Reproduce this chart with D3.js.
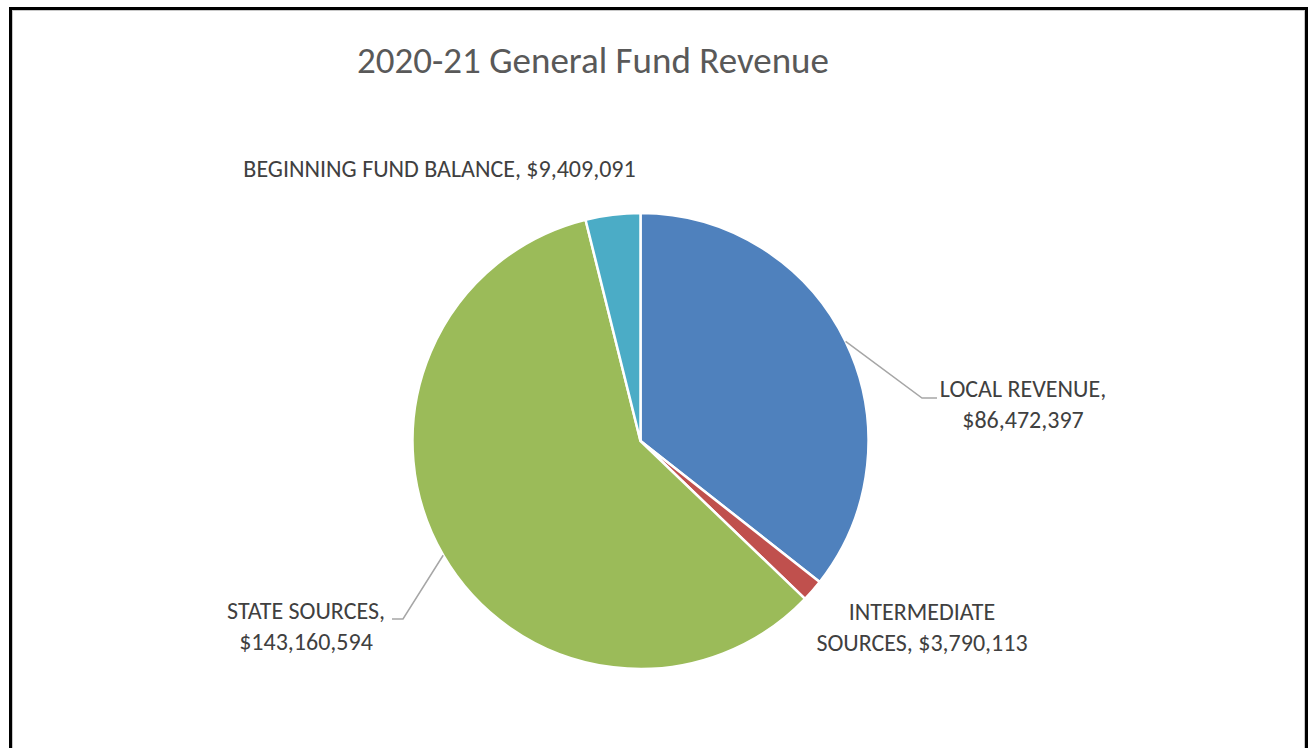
<!DOCTYPE html>
<html>
<head>
<meta charset="utf-8">
<script src="https://cdn.jsdelivr.net/npm/d3@7"></script>
<style>
  html, body { margin: 0; padding: 0; background: #fff; }
  svg { display: block; }
  text { font-family: Carlito, Calibri, Lato, sans-serif; }
</style>
</head>
<body>
<svg id="chart" width="1309" height="748"></svg>
<script>
// Revenue sources for the 2020-21 general fund
const categories = ["LOCAL REVENUE", "INTERMEDIATE SOURCES", "STATE SOURCES", "BEGINNING FUND BALANCE"];
const amounts = [86472397, 3790113, 143160594, 9409091];
const colors = ["#4F81BD", "#C0504D", "#9BBB59", "#4BACC6"];
const titleText = "2020-21 General Fund Revenue";

// Label text lines, anchor point and leader elbow for each slice
const labelLines = [
  ["LOCAL REVENUE,", "$86,472,397"],
  ["INTERMEDIATE", "SOURCES, $3,790,113"],
  ["STATE SOURCES,", "$143,160,594"],
  ["BEGINNING FUND BALANCE, $9,409,091"]
];
const labelLayout = [
  { x: 1023, y: 397, leader: { elbowX: 922, elbowY: 398, endX: 937 } },
  { x: 922, y: 620, leader: null },
  { x: 306, y: 619, leader: { elbowX: 403, elbowY: 619, endX: 392 } },
  { x: 439.5, y: 177, leader: null }
];

const svg = d3.select("#chart");
const cx = 640.5, cy = 441, R = 228;

// chart frame
svg.append("rect").attr("x", 10.5).attr("y", 8.5).attr("width", 1296).attr("height", 760)
  .attr("fill", "none").attr("stroke", "#000").attr("stroke-width", 3);
svg.append("rect").attr("x", 12.5).attr("y", 10.5).attr("width", 1292).attr("height", 760)
  .attr("fill", "none").attr("stroke", "#c8c8c8").attr("stroke-width", 1);

svg.append("text")
  .attr("x", 593).attr("y", 73)
  .attr("text-anchor", "middle")
  .attr("fill", "#595959")
  .attr("font-size", 37)
  .text(titleText);

const pie = d3.pie().sort(null).value(d => d);
const arcs = pie(amounts);
const arc = d3.arc().innerRadius(0).outerRadius(R);

const g = svg.append("g").attr("transform", `translate(${cx},${cy})`);
g.selectAll("path.slice")
  .data(arcs)
  .join("path")
  .attr("class", "slice")
  .attr("d", arc)
  .attr("fill", (d, i) => colors[i])
  .attr("stroke", "#fff")
  .attr("stroke-width", 2.5)
  .attr("stroke-linejoin", "round");

// leader lines from the slice's mid-angle on the rim to the label
arcs.forEach((d, i) => {
  const lay = labelLayout[i];
  if (!lay.leader) return;
  const mid = (d.startAngle + d.endAngle) / 2;
  const sx = cx + R * Math.sin(mid), sy = cy - R * Math.cos(mid);
  svg.append("polyline")
    .attr("points", `${sx},${sy} ${lay.leader.elbowX},${lay.leader.elbowY} ${lay.leader.endX},${lay.leader.elbowY}`)
    .attr("fill", "none")
    .attr("stroke", "#A6A6A6")
    .attr("stroke-width", 1.5);
});

// data labels
labelLines.forEach((lines, i) => {
  const lay = labelLayout[i];
  const t = svg.append("text")
    .attr("x", lay.x).attr("y", lay.y)
    .attr("text-anchor", "middle")
    .attr("fill", "#404040")
    .attr("font-size", 24);
  lines.forEach((ln, j) => {
    t.append("tspan").attr("x", lay.x).attr("dy", j === 0 ? 0 : 31).text(ln);
  });
});
</script>
</body>
</html>
